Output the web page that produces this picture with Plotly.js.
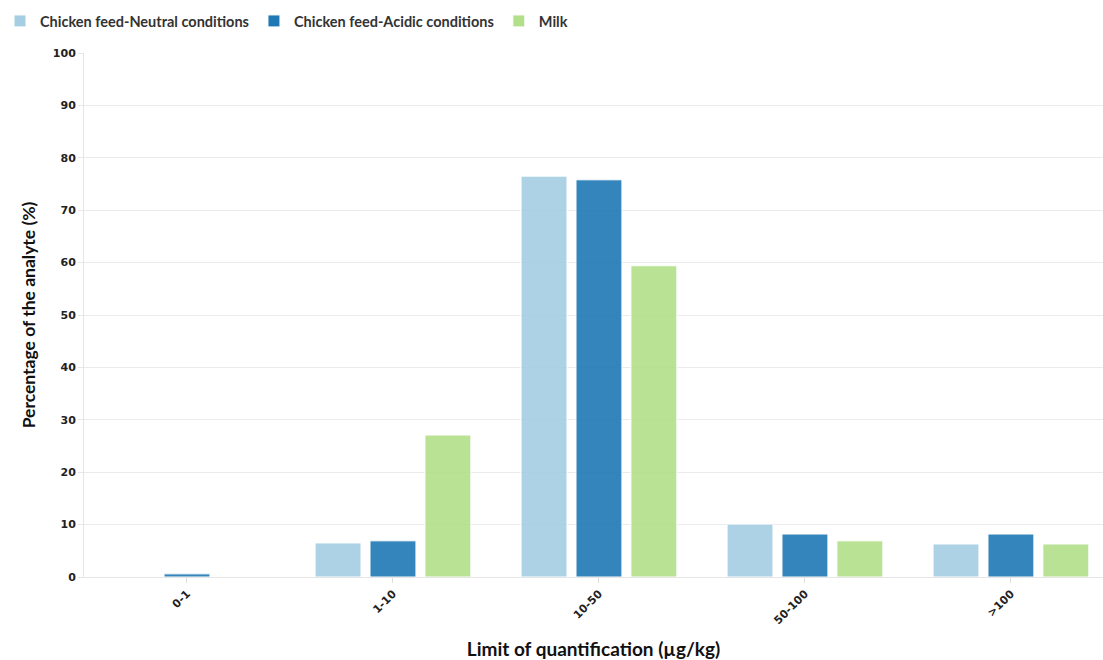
<!DOCTYPE html>
<html><head><meta charset="utf-8">
<script src="https://cdn.plot.ly/plotly-3.0.1.min.js"></script>
<style>html,body{margin:0;padding:0;background:#fff}#chart{width:1103px;height:660px}</style>
</head><body><div id="chart"></div>
<script>
const categories = ["0-1", "1-10", "10-50", "50-100", ">100"];
const neutral = [0, 6.5, 76.5, 10.1, 6.3];
const acidic = [0.6, 6.9, 75.8, 8.2, 8.2];
const milk = [0, 27.1, 59.4, 6.9, 6.3];
const seriesNames = ["Chicken feed-Neutral conditions", "Chicken feed-Acidic conditions", "Milk"];
const colors = ["#a6cee3", "#1f78b4", "#b2df8a"];
const yTicks = [0,10,20,30,40,50,60,70,80,90,100];

const font = "Lato, 'Source Sans Pro', sans-serif";
const data = [neutral, acidic, milk].map((vals, i) => ({
  type: "bar", x: categories, y: vals, name: seriesNames[i],
  marker: {color: colors[i], opacity: 0.9, line: {color: "#ffffff", width: 1}},
  hoverinfo: "x+y+name"
}));

const layout = {
  width: 1103, height: 660,
  margin: {l: 84, r: 0, t: 53, b: 83},
  paper_bgcolor: "#fff", plot_bgcolor: "#fff",
  bargap: 0.2, bargroupgap: 0.164,
  barmode: "group",
  showlegend: true,
  legend: {orientation: "h", xref: "container", yref: "container", x: -0.005, xanchor: "left", y: 1 - 21/660, yanchor: "middle",
    font: {family: font, size: 14.5, color: "#333", weight: "bold"}, itemwidth: 30, tracegroupgap: 0},
  xaxis: {
    type: "category", range: [-0.5, 4.447],
    tickangle: -45, ticks: "outside", ticklen: 5, tickcolor: "#ddd",
    tickfont: {family: "'DejaVu Sans', sans-serif", size: 11, color: "#222", weight: "bold"},
    showline: true, linecolor: "#e6e6e6", linewidth: 1, showgrid: false, zeroline: false,
    title: {text: "Limit of quantification (µg/kg)", standoff: 28,
      font: {family: font, size: 19, color: "#111", weight: "bold"}}
  },
  yaxis: {
    range: [0, 100], tickvals: yTicks, ticktext: yTicks.map(String),
    ticks: "outside", ticklen: 5, tickcolor: "#e6e6e6",
    tickfont: {family: "'DejaVu Sans', sans-serif", size: 11, color: "#222", weight: "bold"},
    showline: true, linecolor: "#e6e6e6", showgrid: true, gridcolor: "#ebebeb", gridwidth: 1, zeroline: false,
    title: {text: "Percentage of the analyte (%)", standoff: 12,
      font: {family: font, size: 17.5, color: "#111", weight: "bold"}}
  }
};
Plotly.newPlot("chart", data, layout, {displayModeBar: false, staticPlot: true});
</script></body></html>
